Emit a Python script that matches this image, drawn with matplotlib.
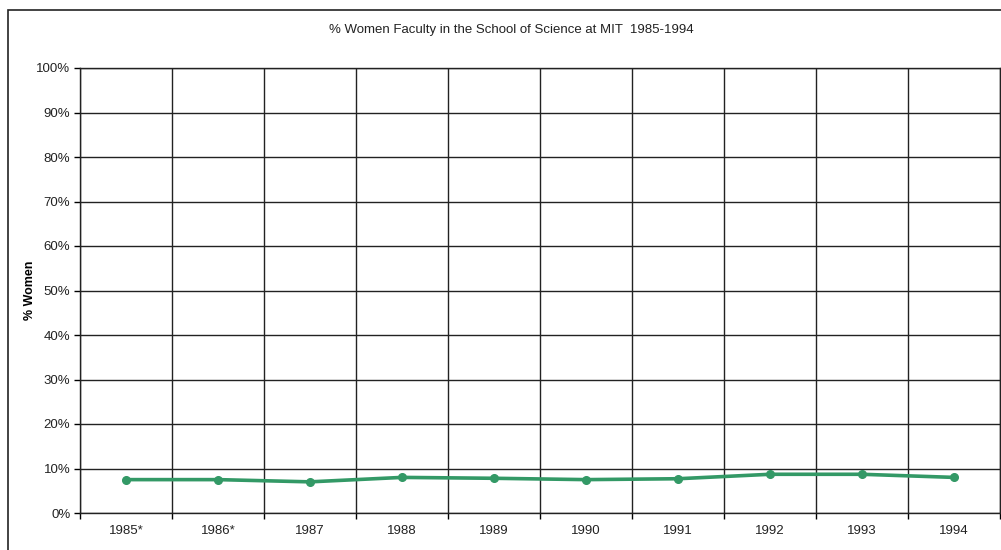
import matplotlib.pyplot as plt
from matplotlib.patches import Rectangle
from matplotlib.ticker import FixedLocator, PercentFormatter

plt.rcParams['font.family'] = ['Liberation Sans', 'DejaVu Sans']

# -------------------------------------------------------
# DATOS
# -------------------------------------------------------
years = ['1985*', '1986*', '1987', '1988', '1989', '1990', '1991', '1992', '1993', '1994']
pct_women = [7.5, 7.5, 7.0, 8.0, 7.8, 7.5, 7.7, 8.7, 8.7, 8.0]
y_ticks = [0, 10, 20, 30, 40, 50, 60, 70, 80, 90, 100]

W, H = 1001, 550
fig = plt.figure(figsize=(W / 100, H / 100), dpi=100)
ax = fig.add_axes([80 / W, 37 / H, 920 / W, 445 / H])

# marco exterior del gráfico
fig.patches.append(Rectangle((8 / W, -0.1), 1.2, 1.1 - 10 / H,
                             transform=fig.transFigure, fill=False,
                             edgecolor='#222222', linewidth=1.2))

x = list(range(len(years)))
ax.plot(x, pct_women, '-o', color='#339966', linewidth=2.6, markersize=5.5, zorder=3)

ax.set_xlim(-0.5, len(years) - 0.5)
ax.set_ylim(0, 100)

# ticks: marcas en los límites de categoría, etiquetas en el centro
ax.xaxis.set_major_locator(FixedLocator([i - 0.5 for i in range(len(years) + 1)]))
ax.xaxis.set_major_formatter(plt.NullFormatter())
ax.xaxis.set_minor_locator(FixedLocator(x))
ax.set_xticklabels(years, minor=True)
ax.tick_params(axis='x', which='major', length=4, width=1, color='#000000')
ax.tick_params(axis='x', which='minor', length=0, labelsize=9.5, pad=9, labelcolor='#222222')

ax.yaxis.set_major_locator(FixedLocator(y_ticks))
ax.yaxis.set_major_formatter(PercentFormatter(decimals=0))
ax.tick_params(axis='y', length=4, width=1, labelsize=9.5, pad=3, labelcolor='#222222')

ax.grid(True, which='major', color='#222222', linewidth=1.0)
ax.set_axisbelow(True)
for s in ax.spines.values():
    s.set_color('#222222')
    s.set_linewidth(1.0)

ax.set_ylabel('% Women', fontsize=9, fontweight='bold')
ax.yaxis.set_label_coords(-44 / 920, 0.5)
fig.text(511 / W, 1 - 30 / H, '% Women Faculty in the School of Science at MIT  1985-1994',
         ha='center', va='center', fontsize=9.5, color='#222222')

fig.savefig('out.png', dpi=100)
